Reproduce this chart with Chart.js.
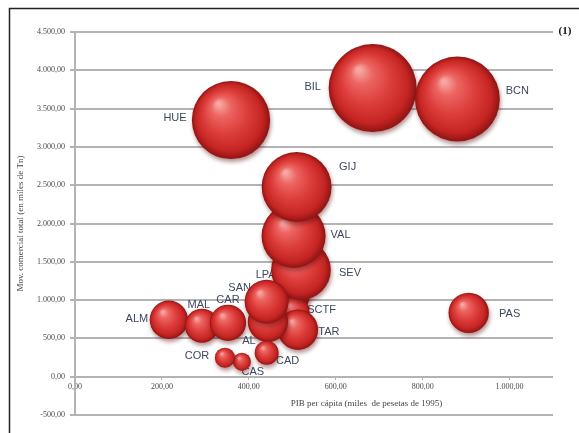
<!DOCTYPE html>
<html>
<head>
<meta charset="utf-8">
<script src="https://cdn.jsdelivr.net/npm/chart.js@4/dist/chart.umd.min.js"></script>
<style>
  html, body { margin: 0; padding: 0; background: #ffffff; }
  #wrap { width: 579px; height: 433px; position: relative; }
</style>
</head>
<body>
<div id="wrap"><canvas id="c" width="579" height="433"></canvas></div>
<script>
// Puertos (drawing order: earlier entries sit underneath later ones)
const puertos      = ['LPA', 'SCTF', 'TAR', 'SEV', 'VAL', 'GIJ', 'AL', 'SAN', 'ALM', 'MAL', 'CAR', 'CAS', 'COR', 'CAD', 'PAS', 'HUE', 'BIL', 'BCN'];
// PIB per cápita (miles de pesetas de 1995)
const pibPerCapita = [494, 503, 513, 520, 503, 510, 444, 441, 216, 292, 352, 384, 345, 441, 906, 359, 685, 880];
// Mov. comercial total (miles de Tn)
const movimiento   = [1069, 847, 613, 1395, 1838, 2477, 717, 978, 743, 665, 704, 196, 248, 313, 834, 3351, 3768, 3625];
// Bubble size variable
const tamano       = [21, 13, 21, 46, 53, 63, 21, 25, 19, 15, 17, 4.2, 5.2, 7.4, 21, 79, 100, 93];

const xTickValues = [0, 200, 400, 600, 800, 1000];
const yTickValues = [-500, 0, 500, 1000, 1500, 2000, 2500, 3000, 3500, 4000, 4500];

// Label placement around each bubble (pixel offsets from the bubble centre)
const labelOffset = {
  HUE: [-56, -2], BIL: [-60, -1], BCN: [60, -8], GIJ: [51, -20], VAL: [47, -1], SEV: [49, 3],
  LPA: [-24, -20], SAN: [-27, -14], SCTF: [28, -2], TAR: [31, 2], ALM: [-32, -1], MAL: [-3, -21],
  CAR: [0, -23], AL: [-19, 19], COR: [-28, -2], CAS: [11, 10], CAD: [21, 8], PAS: [41, 1]
};

const R_MAX = 44;
const tamMax = Math.max(...tamano);

function fmtEs(v) {
  const neg = v < 0;
  const parts = Math.abs(v).toFixed(2).split('.');
  const ent = parts[0].replace(/\B(?=(\d{3})+(?!\d))/g, '.');
  return (neg ? '-' : '') + ent + ',' + parts[1];
}

const puntos = puertos.map((p, i) => ({
  x: pibPerCapita[i],
  y: movimiento[i],
  r: R_MAX * Math.sqrt(tamano[i] / tamMax),
  etiqueta: p
}));

function sphereFill(c) {
  const base = '#d63a3a';
  if (c.type !== 'data') return base;
  const ch = c.chart;
  const xs = ch.scales.x, ys = ch.scales.y;
  if (!xs || !ys) return base;
  const px = xs.getPixelForValue(c.raw.x);
  const py = ys.getPixelForValue(c.raw.y);
  const r = c.raw.r;
  if (!isFinite(px) || !isFinite(py)) return base;
  const g = ch.ctx.createRadialGradient(px - r * 0.32, py - r * 0.42, r * 0.04, px, py, r);
  g.addColorStop(0, '#f7a8a4');
  g.addColorStop(0.22, '#ec6561');
  g.addColorStop(0.55, '#dc3c3a');
  g.addColorStop(0.85, '#c42422');
  g.addColorStop(1, '#8e1414');
  return g;
}

const decorPlugin = {
  id: 'decor',
  beforeDraw(chart) {
    const ctx = chart.ctx;
    ctx.save();
    ctx.fillStyle = '#ffffff';
    ctx.fillRect(0, 0, chart.width, chart.height);
    ctx.restore();
  },
  beforeDatasetsDraw(chart) {
    const ctx = chart.ctx;
    const meta = chart.getDatasetMeta(0);
    ctx.save();
    ctx.font = '11px "Liberation Sans", Arial, sans-serif';
    ctx.fillStyle = '#3c4860';
    ctx.textAlign = 'center';
    ctx.textBaseline = 'middle';
    meta.data.forEach((el, i) => {
      const name = puntos[i].etiqueta;
      const off = labelOffset[name] || [0, 0];
      ctx.fillText(name, el.x + off[0], el.y + off[1]);
    });
    ctx.restore();
  },
  beforeDatasetDraw(chart) {
    const ctx = chart.ctx;
    ctx.save();
    ctx.shadowColor = 'rgba(90, 10, 10, 0.45)';
    ctx.shadowBlur = 4;
    ctx.shadowOffsetX = 1;
    ctx.shadowOffsetY = 3;
  },
  afterDatasetDraw(chart) {
    chart.ctx.restore();
  },
  afterDraw(chart) {
    const ctx = chart.ctx;
    const ca = chart.chartArea;
    const ys = chart.scales.y;
    ctx.save();
    // x axis title
    ctx.font = '9px "Liberation Serif", "Times New Roman", serif';
    ctx.fillStyle = '#444444';
    ctx.textAlign = 'center';
    ctx.textBaseline = 'middle';
    ctx.fillText('PIB per cápita (miles  de pesetas de 1995)', ca.left + (ca.right - ca.left) * 0.61, ys.getPixelForValue(0) + 27);
    // panel number
    ctx.font = 'bold 11px "Liberation Serif", "Times New Roman", serif';
    ctx.fillStyle = '#111111';
    ctx.fillText('(1)', ca.right + 12, ca.top - 1);
    // frame
    ctx.strokeStyle = '#222222';
    ctx.lineWidth = 1.5;
    ctx.beginPath();
    ctx.moveTo(9.5, chart.height);
    ctx.lineTo(9.5, 8.5);
    ctx.lineTo(chart.width, 8.5);
    ctx.stroke();
    ctx.restore();
  }
};

const serif = '"Liberation Serif", "Times New Roman", serif';

new Chart(document.getElementById('c'), {
  type: 'bubble',
  data: {
    datasets: [{
      data: puntos,
      backgroundColor: sphereFill,
      borderWidth: 0,
      clip: false
    }]
  },
  options: {
    responsive: false,
    animation: false,
    events: [],
    layout: { autoPadding: false, padding: { left: 0, top: 32, right: 26, bottom: 18 } },
    plugins: { legend: { display: false }, tooltip: { enabled: false } },
    scales: {
      x: {
        type: 'linear',
        min: 0,
        max: 1100,
        position: { y: 0 },
        afterBuildTicks: (s) => { s.ticks = xTickValues.map(v => ({ value: v })); },
        grid: { drawOnChartArea: false, drawTicks: true, tickLength: 3, color: '#b0b0b0', lineWidth: 1 },
        border: { display: false },
        ticks: {
          font: { family: serif, size: 8 },
          color: '#4a4a4a',
          padding: 2,
          maxRotation: 0,
          autoSkip: false,
          callback: (v) => fmtEs(v)
        }
      },
      y: {
        type: 'linear',
        min: -500,
        max: 4500,
        afterBuildTicks: (s) => { s.ticks = yTickValues.map(v => ({ value: v })); },
        afterFit: (s) => { s.width = 75; },
        grid: { color: '#b3b3b3', lineWidth: 2, tickLength: 5 },
        border: { display: true, color: '#b3b3b3', width: 2 },
        ticks: {
          font: { family: serif, size: 8 },
          color: '#4a4a4a',
          padding: 5,
          autoSkip: false,
          callback: (v) => fmtEs(v)
        },
        title: {
          display: true,
          text: 'Mov. comercial total (en miles de Tn)',
          font: { family: serif, size: 9 },
          color: '#444444',
          padding: { top: 15, bottom: 0 }
        }
      }
    }
  },
  plugins: [decorPlugin]
});
</script>
</body>
</html>
